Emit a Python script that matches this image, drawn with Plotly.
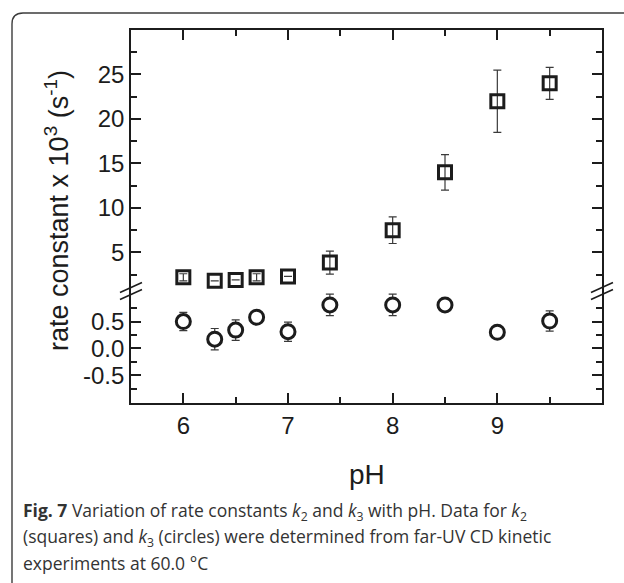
import plotly.graph_objects as go

# ---- data ----
ph = [6.0, 6.3, 6.5, 6.7, 7.0, 7.4, 8.0, 8.5, 9.0, 9.5]
k2 = [2.2, 1.8, 1.9, 2.2, 2.3, 3.85, 7.5, 14.0, 22.0, 24.0]
k2_err = [0.4, None, None, 0.4, None, 1.3, 1.5, 2.0, 3.5, 1.8]
k3 = [0.50, 0.17, 0.34, 0.58, 0.31, 0.81, 0.81, 0.81, 0.30, 0.51]
k3_err = [0.17, 0.20, 0.19, 0.04, 0.18, 0.20, 0.20, 0.03, 0.04, 0.19]

x_ticks = [6, 7, 8, 9]
x_minor = [5.5, 6.5, 7.5, 8.5, 9.5]
upper_ticks = [5, 10, 15, 20, 25]
upper_minor = [2.5, 7.5, 12.5, 17.5, 22.5, 27.5]
lower_ticks = [-0.5, 0.0, 0.5]
lower_ticktext = ["-0.5", "0.0", "0.5"]
lower_minor = [-0.75, -0.25, 0.25, 0.75]

# ---- geometry (pixels) ----
W, H = 624, 583
L, R, T, B = 131, 602, 30, 403
PW, PH = R - L, B - T
BREAK_PY = 291
split = (B - BREAK_PY) / PH


def px(x):
    return (x - L) / PW


def py(y):
    return (B - y) / PH


INK = "#1c1c1c"
AX_FONT = dict(family="Liberation Sans, Arial, sans-serif", size=24, color=INK)

fig = go.Figure()

fig.add_trace(go.Scatter(
    x=ph, y=k2, xaxis="x", yaxis="y2", mode="markers",
    marker=dict(symbol="square-open", size=13, color=INK, line=dict(width=3, color=INK)),
    error_y=dict(type="data", array=k2_err, visible=True, color="#3a3a3a", thickness=1.2, width=4),
    showlegend=False, cliponaxis=False,
))
fig.add_trace(go.Scatter(
    x=ph, y=k3, xaxis="x", yaxis="y", mode="markers",
    marker=dict(symbol="circle", size=14, color="white", line=dict(width=3, color=INK)),
    error_y=dict(type="data", array=k3_err, visible=True, color="#3a3a3a", thickness=1.2, width=4),
    showlegend=False, cliponaxis=False,
))
# empty trace so the top (mirror) x axis gets drawn
fig.add_trace(go.Scatter(x=[None], y=[None], xaxis="x2", yaxis="y2", mode="markers",
                         showlegend=False, hoverinfo="skip"))

common_axis = dict(showline=True, linecolor=INK, linewidth=1.6, ticks="inside",
                   tickcolor=INK, tickwidth=1.6, showgrid=False, zeroline=False,
                   tickfont=AX_FONT)
minor_style = dict(ticklen=6, ticks="inside", tickcolor=INK, tickwidth=1.6)

fig.update_layout(
    width=W, height=H,
    margin=dict(l=L, r=W - R, t=T, b=H - B),
    paper_bgcolor="white", plot_bgcolor="white",
    xaxis=dict(**common_axis, range=[5.5, 10], tickvals=x_ticks, ticklen=10,
               anchor="y", domain=[0, 1],
               minor=dict(tickvals=x_minor, **minor_style)),
    xaxis2=dict(**common_axis, range=[5.5, 10], tickvals=x_ticks, ticklen=10,
                overlaying="x", anchor="y2", side="top", showticklabels=False,
                minor=dict(tickvals=x_minor, **minor_style)),
    yaxis=dict(**common_axis, domain=[0, split], range=[-1.02, 1.07], tickvals=lower_ticks,
               ticktext=lower_ticktext, ticklen=10, mirror="ticks", anchor="x",
               minor=dict(tickvals=lower_minor, **minor_style)),
    yaxis2=dict(**common_axis, domain=[split, 1], range=[0.66, 30], tickvals=upper_ticks,
                ticklen=10, mirror="ticks", anchor="x",
                minor=dict(tickvals=upper_minor, **minor_style)),
)

# y axis title
fig.add_annotation(
    xref="paper", yref="paper", x=px(57), y=py(211), xanchor="center", yanchor="middle",
    text="rate constant x 10<sup>3</sup> (s<sup>-1</sup>)", textangle=-90, showarrow=False,
    font=dict(family="Liberation Sans, Arial, sans-serif", size=27, color=INK),
)
# x axis title
fig.add_annotation(
    xref="paper", yref="paper", x=px(367), y=py(475), xanchor="center", yanchor="middle",
    text="pH", showarrow=False,
    font=dict(family="Liberation Sans, Arial, sans-serif", size=28, color=INK),
)

# axis break marks (left and right)
for ax_x in (L, R):
    for dy in (-3.5, 3.5):
        fig.add_shape(type="line", xref="paper", yref="paper",
                      xsizemode="pixel", ysizemode="pixel",
                      xanchor=px(ax_x), yanchor=py(BREAK_PY),
                      x0=-11, x1=11, y0=dy - 5, y1=dy + 5,
                      line=dict(color=INK, width=1.6))

# outer rounded frame (open to the right and bottom)
r = 11
x0, y0 = 12, 13
path = (f"M {px(x0)},{py(H + 5)} L {px(x0)},{py(y0 + r)} "
        f"Q {px(x0)},{py(y0)} {px(x0 + r)},{py(y0)} L {px(W + 5)},{py(y0)}")
fig.add_shape(type="path", xref="paper", yref="paper", path=path,
              line=dict(color="#3c3c3c", width=1.4))

# caption
CAP = dict(family="Open Sans, Noto Sans, sans-serif", size=17.5, color="#333333")
cap_lines = [
    "<b>Fig. 7</b> Variation of rate constants <i>k</i><sub>2</sub> and <i>k</i><sub>3</sub> with pH. Data for <i>k</i><sub>2</sub>",
    "(squares) and <i>k</i><sub>3</sub> (circles) were determined from far-UV CD kinetic",
    "experiments at 60.0 °C",
]
cap_y = [511, 537, 563]
for txt, yy in zip(cap_lines, cap_y):
    fig.add_annotation(xref="paper", yref="paper", x=px(21), y=py(yy), xanchor="left",
                       yanchor="middle", text=txt, showarrow=False, align="left", font=CAP)

fig.write_html("out.html", config={"displayModeBar": False},
               post_script="document.body.style.margin='0';document.body.style.overflow='hidden';")
